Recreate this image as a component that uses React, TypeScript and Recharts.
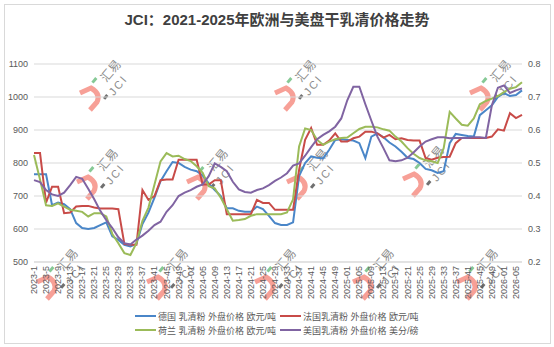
import React from "react";
import { LineChart, Line, XAxis, YAxis, CartesianGrid } from "recharts";

// weekly labels, sampled every 2 weeks (2023-1 .. 2026-07)
const pad = (n: number) => (n < 10 ? `0${n}` : `${n}`);
const weekLabels: string[] = [];
for (let i = 0; i < 164; i += 2) {
  if (i < 52) weekLabels.push(`2023-${i + 1}`);
  else if (i < 104) weekLabels.push(`2024-${pad(i - 51)}`);
  else if (i < 156) weekLabels.push(`2025-${pad(i - 103)}`);
  else weekLabels.push(`2026-${pad(i - 155)}`);
}

// 德国 欧元/吨
const germany = [
  766, 766, 766, 672, 680, 675, 660, 618, 603, 600,
  603, 612, 620, 578, 567, 552, 547, 555, 615, 650,
  695, 745, 775, 803, 800, 788, 780, 775, 762, 738,
  718, 700, 663, 663, 655, 652, 652, 668, 660, 640,
  618, 612, 612, 620, 760, 800, 820, 816, 814, 840,
  870, 872, 870, 868, 860, 815, 880, 890, 878, 862,
  850, 834, 816, 812, 800, 782, 778, 770, 775, 860,
  888, 885, 882, 880, 945, 960, 975, 1000, 1012, 1003,
  1006, 1020,
];

// 法国 欧元/吨
const france = [
  830, 830, 680, 728, 728, 648, 650, 668, 670, 670,
  665, 662, 662, 662, 660, 555, 552, 552, 718, 688,
  700, 748, 750, 750, 810, 810, 810, 810, 735, 735,
  748, 748, 645, 645, 645, 645, 645, 688, 679, 679,
  658, 658, 658, 658, 779, 870, 906, 855, 855, 868,
  890, 865, 865, 875, 880, 895, 895, 890, 877, 885,
  872, 875, 870, 868, 868, 815, 810, 816, 818, 819,
  860, 876, 876, 876, 876, 876, 880, 902, 898, 951,
  936, 946,
];

// 荷兰 欧元/吨
const netherlands = [
  824, 750, 672, 670, 678, 668, 658, 655, 652, 638,
  648, 648, 638, 585, 557, 527, 521, 557, 625, 665,
  735, 805, 830, 820, 822, 812, 806, 790, 770, 730,
  723, 695, 660, 625, 627, 630, 640, 645, 645, 645,
  645, 645, 650, 690, 850, 905, 900, 870, 855, 865,
  872, 876, 877, 890, 903, 910, 910, 908, 902, 898,
  880, 865, 845, 828, 815, 808, 805, 800, 845, 955,
  935, 916, 913, 935, 978, 988, 995, 1003, 1015, 1025,
  1030, 1045,
];

// 美国 美分/磅 (right axis)
const usa = [
  0.448, 0.442, 0.418, 0.405, 0.4, 0.41, 0.433, 0.458, 0.452, 0.422,
  0.39, 0.355, 0.327, 0.303, 0.275, 0.257, 0.253, 0.268, 0.28, 0.295,
  0.312, 0.322, 0.352, 0.372, 0.4, 0.41, 0.418, 0.428, 0.435, 0.46,
  0.499, 0.488, 0.475, 0.443, 0.42, 0.412, 0.41, 0.418, 0.423, 0.433,
  0.446, 0.456, 0.469, 0.492, 0.499, 0.522, 0.548, 0.572, 0.585, 0.596,
  0.61, 0.635, 0.69, 0.731, 0.731, 0.678, 0.628, 0.58, 0.545, 0.508,
  0.505, 0.508, 0.516, 0.532, 0.55, 0.565, 0.572, 0.578, 0.578, 0.575,
  0.576, 0.576, 0.576, 0.578, 0.578, 0.576, 0.675, 0.728, 0.735, 0.712,
  0.72, 0.726,
];

const leftTicks = [500, 600, 700, 800, 900, 1000, 1100];
const rightTicks = [0.2, 0.3, 0.4, 0.5, 0.6, 0.7, 0.8];

const series = [
  { key: "de", name: "德国 乳清粉 外盘价格 欧元/吨", color: "#4a86c8", axis: "left" },
  { key: "fr", name: "法国乳清粉 外盘价格 欧元/吨", color: "#c84b48", axis: "left" },
  { key: "nl", name: "荷兰 乳清粉 外盘价格 欧元/吨", color: "#9bbb59", axis: "left" },
  { key: "us", name: "美国乳清粉 外盘价格 美分/磅", color: "#8064a2", axis: "right" },
];

const data = weekLabels.map((week, i) => ({
  week,
  de: germany[i],
  fr: france[i],
  nl: netherlands[i],
  us: usa[i],
}));

// watermark anchor points (top-left of the red hook)
const marks = [
  [80, 88], [275, 88], [470, 88],
  [77, 177], [187, 177], [287, 177], [403, 174],
  [37, 277], [147, 277], [255, 277], [353, 277], [457, 277],
];

const FONT = "'Liberation Sans', 'Noto Sans CJK SC', sans-serif";
const TXT = "#595959";

function XTick(props: any) {
  const { x, y, payload } = props;
  return (
    <text
      transform={`translate(${x},${y - 4}) rotate(-90)`}
      textAnchor="end"
      dominantBaseline="central"
      fontSize={9}
      fill={TXT}
      fontFamily={FONT}
    >
      {payload.value}
    </text>
  );
}

function Watermarks() {
  return (
    <svg width={554} height={347} style={{ position: "absolute", left: 0, top: 0 }}>
      {marks.map(([hx, hy], k) => (
        <g key={k}>
          <path
            d={`M${hx} ${hy + 5} L${hx + 11} ${hy} Q${hx + 21} ${hy + 6} ${hx + 17} ${hy + 14} L${hx + 10} ${hy + 22}`}
            stroke="#f7a097"
            strokeWidth={5}
            fill="none"
          />
          <rect x={hx + 11} y={hy - 9} width={6} height={3} fill="#86c995" transform={`rotate(-50 ${hx + 14} ${hy - 8})`} />
          <text
            transform={`translate(${hx + 31},${hy - 17}) rotate(-50)`}
            textAnchor="middle"
            dominantBaseline="central"
            fontSize={12}
            fill="#8c8c8c"
            fontFamily={FONT}
          >
            汇易
          </text>
          <rect x={hx + 23} y={hy + 8} width={5} height={3} fill="#707070" transform={`rotate(-50 ${hx + 25} ${hy + 9})`} />
          <text
            transform={`translate(${hx + 38},${hy - 3}) rotate(-50)`}
            textAnchor="middle"
            dominantBaseline="central"
            fontSize={11}
            letterSpacing={2}
            fill="#8c8c8c"
            fontFamily={FONT}
          >
            JCI
          </text>
        </g>
      ))}
    </svg>
  );
}

export default function App() {
  const legendPos = [
    [135, 309], [280, 309], [135, 323], [280, 323],
  ];
  return (
    <div style={{ position: "absolute", left: 0, top: 0, width: 554, height: 347, background: "#fff", fontFamily: FONT }}>
      <div style={{ position: "absolute", left: 4, top: 4, width: 545, height: 338, border: "1px solid #d9d9d9" }} />
      <Watermarks />
      <div
        style={{
          position: "absolute",
          left: 0,
          top: 8,
          width: 554,
          textAlign: "center",
          fontSize: 15,
          fontWeight: "bold",
          color: "#404040",
          fontFamily: "'Liberation Sans', 'Noto Sans CJK SC', sans-serif",
        }}
      >
        JCI：2021-2025年欧洲与美盘干乳清价格走势
      </div>
      <div style={{ position: "absolute", left: 0, top: 0 }}>
        <LineChart width={554} height={310} data={data} margin={{ top: 64, right: 0, bottom: 0, left: 0 }}>
          <CartesianGrid yAxisId="left" vertical={false} stroke="#d9d9d9" />
          <XAxis
            dataKey="week"
            interval={1}
            tick={<XTick />}
            tickLine={false}
            axisLine={{ stroke: "#d9d9d9" }}
            height={48}
          />
          <YAxis
            yAxisId="left"
            domain={[500, 1100]}
            ticks={leftTicks}
            width={34}
            tickMargin={0}
            axisLine={false}
            tickLine={false}
            tick={{ fontSize: 9, fill: TXT, fontFamily: FONT }}
          />
          <YAxis
            yAxisId="right"
            orientation="right"
            domain={[0.2, 0.8]}
            ticks={rightTicks}
            width={32}
            tickMargin={0}
            axisLine={false}
            tickLine={false}
            tickFormatter={(v: number) => v.toFixed(1)}
            tick={{ fontSize: 9, fill: TXT, fontFamily: FONT }}
          />
          {series.map((s) => (
            <Line
              key={s.key}
              yAxisId={s.axis}
              dataKey={s.key}
              name={s.name}
              type="linear"
              stroke={s.color}
              strokeWidth={2}
              dot={false}
              isAnimationActive={false}
            />
          ))}
        </LineChart>
      </div>
      {series.map((s, i) => (
        <div
          key={s.key}
          style={{
            position: "absolute",
            left: legendPos[i][0],
            top: legendPos[i][1],
            height: 14,
            display: "flex",
            alignItems: "center",
            fontSize: 9,
            color: TXT,
            whiteSpace: "nowrap",
          }}
        >
          <span style={{ display: "inline-block", width: 21, height: 2, background: s.color, marginRight: 2 }} />
          {s.name}
        </div>
      ))}
    </div>
  );
}
